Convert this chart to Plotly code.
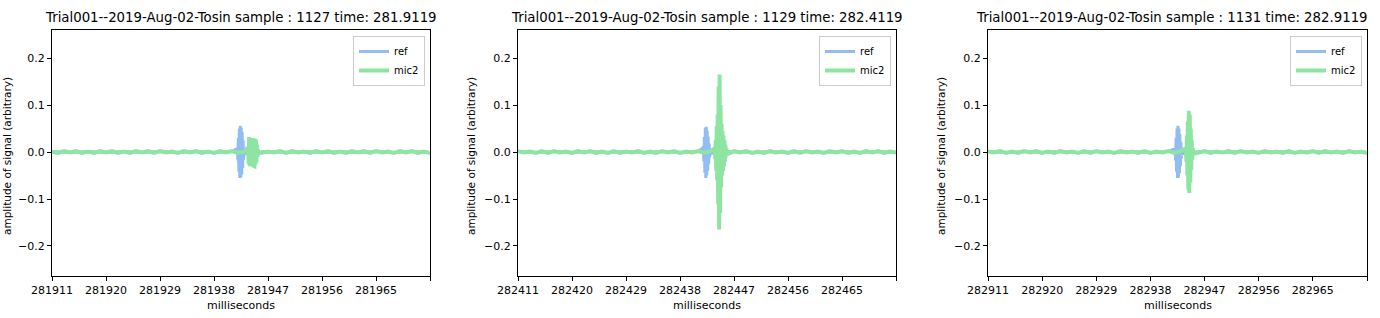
import plotly.graph_objects as go

# ---------------- data ----------------
TITLES = [
    "Trial001--2019-Aug-02-Tosin sample : 1127 time: 281.9119",
    "Trial001--2019-Aug-02-Tosin sample : 1129 time: 282.4119",
    "Trial001--2019-Aug-02-Tosin sample : 1131 time: 282.9119",
]
START_MS = [281911, 282411, 282911]
TICK_OFFSETS = [0, 9, 18, 27, 36, 45, 54, 63]
TICK_LABELS_1 = ["281911", "281920", "281929", "281938", "281947", "281956", "281965", ""]
TICK_LABELS_2 = ["282411", "282420", "282429", "282438", "282447", "282456", "282465", ""]
TICK_LABELS_3 = ["282911", "282920", "282929", "282938", "282947", "282956", "282965", ""]
Y_TICKS = [-0.2, -0.1, 0.0, 0.1, 0.2]

# baseline noise of mic2, one value per millisecond (offset 0..63)
MIC_NOISE_1 = [0.001, -0.002, 0.002, -0.001, 0.002, -0.002, 0.001, -0.002,
               0.002, -0.001, 0.002, -0.002, 0.001, -0.002, 0.002, -0.001,
               0.002, -0.002, 0.002, -0.001, 0.001, -0.002, 0.002, -0.001,
               0.002, -0.002, 0.001, -0.002, 0.002, -0.001, 0.002, -0.002,
               0.001, -0.002, 0.002, -0.002, 0.001, -0.001, 0.002, -0.002,
               0.002, -0.001, 0.001, -0.002, 0.002, -0.001, 0.002, -0.002,
               0.001, -0.002, 0.002, -0.001, 0.002, -0.002, 0.002, -0.001,
               0.001, -0.002, 0.002, -0.001, 0.002, -0.002, 0.001, -0.002]
MIC_NOISE_2 = [0.002, -0.001, 0.001, -0.002, 0.002, -0.002, 0.002, -0.001,
               0.001, -0.002, 0.002, -0.001, 0.002, -0.002, 0.001, -0.002,
               0.002, -0.002, 0.001, -0.001, 0.002, -0.002, 0.001, -0.002,
               0.002, -0.001, 0.002, -0.002, 0.001, -0.001, 0.002, -0.002,
               0.002, -0.002, 0.001, -0.002, 0.002, -0.001, 0.002, -0.002,
               0.001, -0.002, 0.002, -0.001, 0.001, -0.002, 0.002, -0.002,
               0.002, -0.001, 0.001, -0.002, 0.002, -0.001, 0.002, -0.002,
               0.001, -0.002, 0.002, -0.001, 0.002, -0.002, 0.001, -0.001]
MIC_NOISE_3 = [0.001, -0.001, 0.002, -0.002, 0.001, -0.002, 0.002, -0.001,
               0.002, -0.002, 0.001, -0.002, 0.002, -0.001, 0.001, -0.002,
               0.002, -0.002, 0.002, -0.001, 0.001, -0.002, 0.002, -0.001,
               0.001, -0.002, 0.002, -0.002, 0.001, -0.001, 0.002, -0.002,
               0.002, -0.001, 0.001, -0.002, 0.002, -0.002, 0.001, -0.001,
               0.002, -0.002, 0.002, -0.001, 0.001, -0.002, 0.002, -0.001,
               0.001, -0.002, 0.002, -0.002, 0.001, -0.001, 0.002, -0.002,
               0.002, -0.001, 0.001, -0.002, 0.002, -0.001, 0.001, -0.002]

# baseline of ref, one value every 3 ms (offset 0..63)
REF_NOISE = [0.001, -0.001, 0.001, -0.001, 0.001, -0.001, 0.001, -0.001,
             0.001, -0.001, 0.001, -0.001, 0.001, -0.001, 0.001, -0.001,
             0.001, -0.001, 0.001, -0.001, 0.001, -0.001]

# bursts: start offset (ms), sample step (ms), sample values
BURST_STEP = 0.08
REF_BURST_START = [30.9, 30.9, 31.1]
REF_BURST_1 = [0.008, -0.018, 0.03, -0.042, 0.05, -0.055, 0.056, -0.054,
               0.052, -0.048, 0.042, -0.034, 0.025, -0.016, 0.009, -0.004]
REF_BURST_2 = [0.01, -0.02, 0.032, -0.044, 0.052, -0.055, 0.054, -0.05,
               0.046, -0.04, 0.033, -0.026, 0.018, -0.011, 0.006, -0.003]
REF_BURST_3 = [0.008, -0.018, 0.03, -0.042, 0.05, -0.055, 0.056, -0.054,
               0.05, -0.045, 0.038, -0.03, 0.022, -0.014, 0.008, -0.004]
MIC_BURST_START = [32.7, 32.8, 32.9]
MIC_BURST_1 = [0.01, -0.025, 0.032, -0.03, 0.03, -0.029, 0.03, -0.03,
               0.029, -0.03, 0.03, -0.029, 0.028, -0.03, 0.029, -0.027,
               0.026, -0.022, 0.016, -0.01, 0.006, -0.003]
MIC_BURST_2 = [0.008, -0.015, 0.025, -0.04, 0.055, -0.06, 0.08, -0.11,
               0.14, -0.165, 0.165, -0.13, 0.1, -0.075, 0.06, -0.05,
               0.045, -0.04, 0.035, -0.03, 0.025, -0.02, 0.016, -0.012,
               0.008, -0.005]
MIC_BURST_3 = [0.008, -0.02, 0.035, -0.05, 0.065, -0.08, 0.088, -0.087,
               0.08, -0.065, 0.05, -0.038, 0.026, -0.016, 0.009, -0.004]

REF_COLOR = "#92bdf2"
MIC_COLOR = "#8de5a1"

# ---------------- helpers ----------------
def merge(t0, base_step, base_vals, b_start, b_vals):
    b_end = b_start + BURST_STEP * (len(b_vals) - 1)
    pts = [(t0 + i * base_step, v) for i, v in enumerate(base_vals)
           if not (b_start - 0.3 <= i * base_step <= b_end + 0.3)]
    pts += [(t0 + b_start + i * BURST_STEP, v) for i, v in enumerate(b_vals)]
    pts.sort()
    return [p[0] for p in pts], [p[1] for p in pts]

W, H = 1380, 318
px = lambda x: x / W
py = lambda y: 1 - y / H

X_DOMAINS = [(px(52), px(430)), (px(518), px(896)), (px(988), px(1367))]
Y_DOMAIN = (py(276), py(30))
YLABEL_X = [7, 471, 941]
TITLE_X = [241, 707, 1172]

mic_noise = [MIC_NOISE_1, MIC_NOISE_2, MIC_NOISE_3]
ref_bursts = [REF_BURST_1, REF_BURST_2, REF_BURST_3]
mic_bursts = [MIC_BURST_1, MIC_BURST_2, MIC_BURST_3]
tick_labels = [TICK_LABELS_1, TICK_LABELS_2, TICK_LABELS_3]

FONT = "DejaVu Sans"
fig = go.Figure()
annotations = []
layout = {}

for k in range(3):
    t0 = START_MS[k]
    sfx = "" if k == 0 else str(k + 1)
    leg = "legend" + sfx
    rx, ry = merge(t0, 3, REF_NOISE, REF_BURST_START[k], ref_bursts[k])
    mx, my = merge(t0, 1, mic_noise[k], MIC_BURST_START[k], mic_bursts[k])
    fig.add_trace(go.Scatter(x=rx, y=ry, mode="lines", name="ref",
                             line=dict(color=REF_COLOR, width=3),
                             xaxis="x" + sfx, yaxis="y" + sfx, legend=leg))
    fig.add_trace(go.Scatter(x=mx, y=my, mode="lines", name="mic2",
                             line=dict(color=MIC_COLOR, width=4),
                             xaxis="x" + sfx, yaxis="y" + sfx, legend=leg))
    layout["xaxis" + sfx] = dict(
        domain=list(X_DOMAINS[k]), anchor="y" + sfx, automargin=False,
        range=[t0, t0 + TICK_OFFSETS[-1]],
        tickmode="array", tickvals=[t0 + o for o in TICK_OFFSETS],
        ticktext=tick_labels[k], ticks="outside", ticklen=4, tickcolor="black",
        showline=True, linecolor="black", linewidth=1, mirror=True,
        showgrid=False, zeroline=False,
        tickfont=dict(family=FONT, size=11, color="black"))
    layout["yaxis" + sfx] = dict(
        domain=list(Y_DOMAIN), anchor="x" + sfx, range=[-0.264, 0.26],
        automargin=False,
        tickmode="array", tickvals=Y_TICKS, tickformat=".1f",
        ticks="outside", ticklen=4, tickcolor="black",
        showline=True, linecolor="black", linewidth=1, mirror=True,
        showgrid=False, zeroline=False,
        tickfont=dict(family=FONT, size=11, color="black"))
    layout[leg] = dict(
        x=X_DOMAINS[k][1] - px(5), y=Y_DOMAIN[1] - (6 / H),
        xanchor="right", yanchor="top", bgcolor="rgba(255,255,255,0.8)",
        bordercolor="#cccccc", borderwidth=1, tracegroupgap=0,
        font=dict(family=FONT, size=10, color="black"))
    xc = (X_DOMAINS[k][0] + X_DOMAINS[k][1]) / 2
    annotations.append(dict(text=TITLES[k], x=px(TITLE_X[k]), y=Y_DOMAIN[1],
                            xref="paper", yref="paper", xanchor="center",
                            yanchor="bottom", yshift=3, showarrow=False,
                            font=dict(family=FONT, size=13.3, color="black")))
    annotations.append(dict(text="milliseconds", x=xc, y=py(305), xref="paper",
                            yref="paper", xanchor="center", yanchor="middle",
                            showarrow=False,
                            font=dict(family=FONT, size=11, color="black")))
    annotations.append(dict(text="amplitude of signal (arbitrary)",
                            x=px(YLABEL_X[k]), y=py(156), xref="paper",
                            yref="paper", xanchor="center", yanchor="middle",
                            textangle=-90, showarrow=False,
                            font=dict(family=FONT, size=10.5, color="black")))

fig.update_layout(**layout)
fig.update_layout(width=W, height=H, margin=dict(l=0, r=0, t=0, b=0),
                  paper_bgcolor="white", plot_bgcolor="white",
                  showlegend=True, annotations=annotations,
                  font=dict(family=FONT))
fig.write_html("out.html")
